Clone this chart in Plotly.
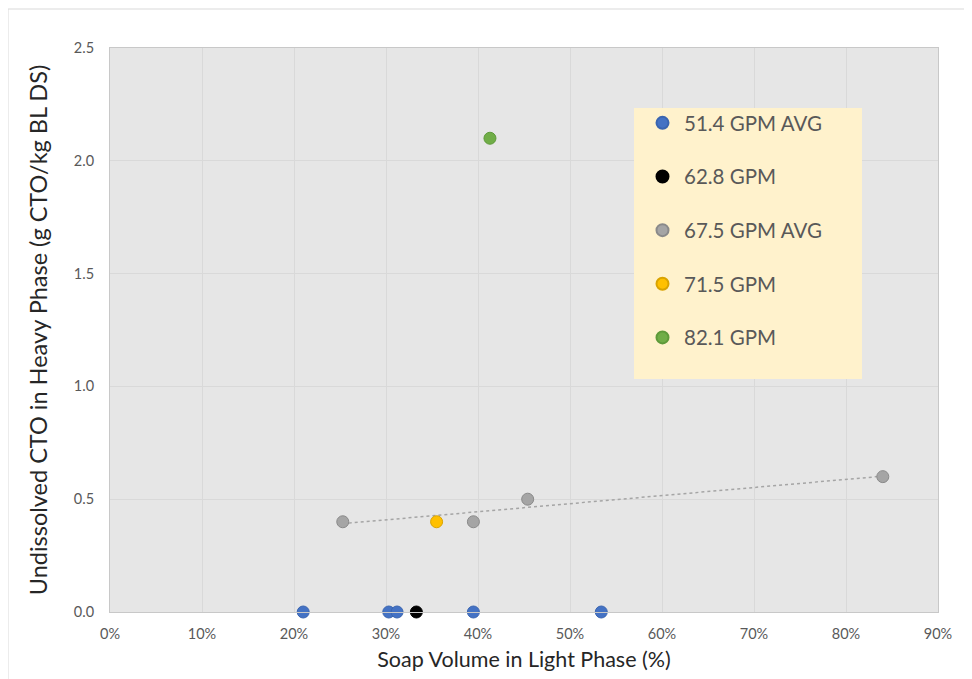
import numpy as np
import plotly.graph_objects as go

# ---- data ----
series_names = ["51.4 GPM AVG", "62.8 GPM", "67.5 GPM AVG", "71.5 GPM", "82.1 GPM"]
x_514 = [21.0, 30.3, 31.2, 39.5, 53.4]
y_514 = [0.0, 0.0, 0.0, 0.0, 0.0]
x_628 = [33.3]
y_628 = [0.0]
x_675 = [25.3, 39.5, 45.4, 84.0]
y_675 = [0.4, 0.4, 0.5, 0.6]
x_715 = [35.5]
y_715 = [0.4]
x_821 = [41.3]
y_821 = [2.1]
x_ticks = [0, 10, 20, 30, 40, 50, 60, 70, 80, 90]
y_ticks = [0.0, 0.5, 1.0, 1.5, 2.0, 2.5]

colors = ["#4472C4", "#000000", "#A5A5A5", "#FFC000", "#70AD47"]
edges = ["#3A65B0", "#000000", "#8A8A8A", "#D9A300", "#5E9A3A"]

FONT = "Lato"
fig = go.Figure()

# linear trendline for 67.5 GPM AVG (drawn first, below markers)
m, b = np.polyfit(x_675, y_675, 1)
tx = [min(x_675), max(x_675)]
fig.add_trace(go.Scatter(
    x=tx, y=[m * t + b for t in tx], mode="lines", showlegend=False,
    line=dict(color="#A5A5A5", width=1.5, dash="dot"), hoverinfo="skip",
))

xs = [x_514, x_628, x_675, x_715, x_821]
ys = [y_514, y_628, y_675, y_715, y_821]
for i, (name, xv, yv) in enumerate(zip(series_names, xs, ys)):
    fig.add_trace(go.Scatter(
        x=xv, y=yv, mode="markers", name=name, legendgroup=name,
        marker=dict(size=12, color=colors[i], line=dict(color=edges[i], width=1)),
        cliponaxis=False,
    ))

OFF = 8  # page body margin
W, H = 964, 671
L, R, T, B = 102, 34, 40, 67
pw, ph = W - L - R, H - T - B
X0 = OFF + L
Y1 = OFF + H - B

def px_x(p):
    return (p - X0) / pw

def px_y(p):
    return (Y1 - p) / ph

shapes = [
    # outer chart border
    dict(type="rect", xref="paper", yref="paper",
         x0=px_x(8), x1=px_x(968), y0=px_y(700), y1=px_y(9),
         line=dict(color="#D9D9D9", width=1), fillcolor="rgba(0,0,0,0)", layer="below"),
    # legend background box
    dict(type="rect", xref="paper", yref="paper",
         x0=px_x(634), x1=px_x(862), y0=px_y(379), y1=px_y(108),
         line=dict(width=0), fillcolor="#FFF2CC", layer="above"),
]

fig.update_layout(
    width=W, height=H,
    margin=dict(l=L, r=R, t=T, b=B),
    paper_bgcolor="white",
    plot_bgcolor="#E6E6E6",
    font=dict(family=FONT, color="#595959"),
    shapes=shapes,
    legend=dict(
        x=px_x(641), y=px_y(103), xanchor="left", yanchor="top",
        bgcolor="rgba(0,0,0,0)", font=dict(size=20.5, color="#595959", family=FONT),
        tracegroupgap=24, itemsizing="constant", itemwidth=33,
    ),
    xaxis=dict(
        range=[0, 90], tickvals=x_ticks, ticktext=[f"{v}%" for v in x_ticks],
        showgrid=True, gridcolor="#D9D9D9", gridwidth=1,
        showline=True, linecolor="#C8C8C8", mirror=True, zeroline=False,
        tickfont=dict(size=14.5, color="#595959"),
        ticks="outside", ticklen=9, tickcolor="rgba(0,0,0,0)",
        title=dict(text="Soap Volume in Light Phase (%)", font=dict(size=21.5, color="#262626"), standoff=10),
    ),
    yaxis=dict(
        range=[0, 2.5], tickvals=y_ticks, ticktext=[f"{v:.1f}" for v in y_ticks],
        showgrid=True, gridcolor="#D9D9D9", gridwidth=1,
        showline=True, linecolor="#C8C8C8", mirror=True, zeroline=False,
        tickfont=dict(size=14.5, color="#595959"),
        ticks="outside", ticklen=12, tickcolor="rgba(0,0,0,0)",
        title=dict(text="Undissolved CTO in Heavy Phase (g CTO/kg BL DS)", font=dict(size=23.5, color="#262626"), standoff=19),
    ),
)

fig.write_html("out.html")
